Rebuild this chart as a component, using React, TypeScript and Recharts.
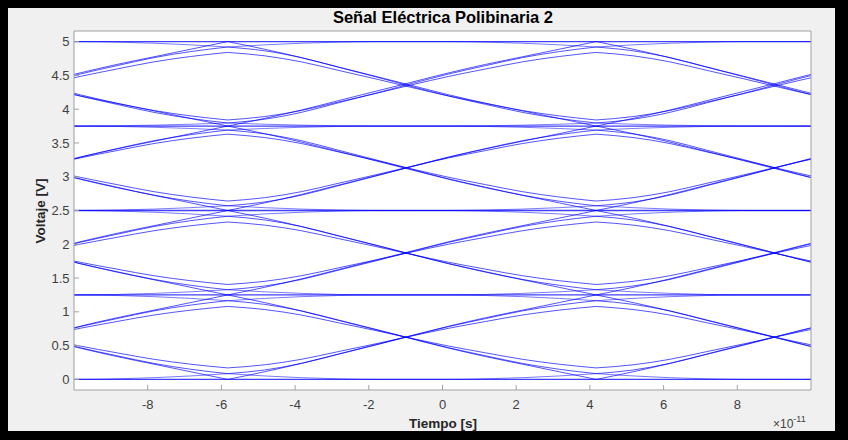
import { LineChart, Line, XAxis, YAxis } from "recharts";

// voltage levels of the polybinary signal
const levels = [0, 1.25, 2.5, 3.75, 5];
// symbol instants where the traces bunch up at the levels (x 1e-11 s)
const instants = [-15.83, -5.83, 4.17];
// time offsets inside one symbol window
const offsets = [0, 1, 2, 3, 4, 5, 6, 7, 8, 9, 10];
// transition shapes (fraction of the way between levels)
const innerShape = [0, 0.05, 0.14, 0.265, 0.39, 0.52, 0.645, 0.755, 0.86, 0.94, 1];
const throughShape = [0, 0.09, 0.19, 0.3, 0.41, 0.52, 0.63, 0.73, 0.82, 0.91, 1];
const holdShape = [1, 0.6, 0.3, 0.1, 0, 0, 0, 0.1, 0.3, 0.6, 1];
// how far the inner traces stay from the band's lower / upper level
const lowInner = [0.17, 0.155, 0.14, 0.09];
const highInner = [0.17, 0.17, 0.12, 0.16];

const xTicks = [-8, -6, -4, -2, 0, 2, 4, 6, 8];
const yTicks = [0, 0.5, 1, 1.5, 2, 2.5, 3, 3.5, 4, 4.5, 5];

type Pt = { t: number; v: number };
const curves: { key: string; pts: Pt[]; w: number }[] = [];

levels.slice(0, -1).forEach((lo, b) => {
  const hi = levels[b + 1];
  instants.forEach((t0, w) => {
    [1, 0.5, 0].forEach((k) => {
      const shape = k === 0 ? throughShape : innerShape;
      const top = hi - k * highInner[b];
      const bot = lo + k * lowInner[b];
      curves.push({
        key: `f-${b}-${w}-${k}`,
        w: 0.9,
        pts: offsets.map((o, i) => ({ t: t0 + o, v: top - (top - bot) * shape[i] })),
      });
      curves.push({
        key: `r-${b}-${w}-${k}`,
        w: 0.9,
        pts: offsets.map((o, i) => ({ t: t0 + o, v: bot + (top - bot) * shape[i] })),
      });
    });
    curves.push({
      key: `hh-${b}-${w}`,
      w: 0.7,
      pts: offsets.map((o, i) => ({ t: t0 + o, v: hi - (highInner[b] / 2) * holdShape[i] })),
    });
    curves.push({
      key: `hl-${b}-${w}`,
      w: 0.7,
      pts: offsets.map((o, i) => ({ t: t0 + o, v: lo + (lowInner[b] / 2) * holdShape[i] })),
    });
  });
});

levels.forEach((l, i) => {
  curves.push({ key: `lvl-${i}`, w: 1.3, pts: [{ t: -10, v: l }, { t: 10, v: l }] });
});

const FONT = "'Liberation Sans', Arial, Helvetica, sans-serif";
const AXIS = "#a0a0a0";
const TICK_TEXT = { fontSize: 13, fill: "#404040", fontFamily: FONT };

export default function App() {
  return (
    <div style={{ position: "absolute", left: 0, top: 0, width: 848, height: 440, background: "#000" }}>
      <div style={{ position: "absolute", left: 8, top: 8, width: 827, height: 423, background: "#f0f0f0" }} />
      <div style={{ position: "absolute", left: 74, top: 31, width: 737, height: 359, background: "#fff" }} />
      <div style={{ position: "absolute", left: 0, top: 0 }}>
        <LineChart width={848} height={440} margin={{ top: 26, right: 32, bottom: 10, left: 34 }}>
          <XAxis
            xAxisId="b"
            dataKey="t"
            type="number"
            domain={[-10, 10]}
            ticks={xTicks}
            allowDataOverflow
            orientation="bottom"
            height={40}
            tickSize={-5}
            tickMargin={15}
            stroke={AXIS}
            tick={TICK_TEXT}
          />
          <XAxis
            xAxisId="t"
            dataKey="t"
            type="number"
            domain={[-10, 10]}
            ticks={xTicks}
            allowDataOverflow
            orientation="top"
            height={5}
            tickSize={-5}
            tick={false}
            stroke={AXIS}
          />
          <YAxis
            yAxisId="l"
            type="number"
            domain={[-0.157, 5.157]}
            ticks={yTicks}
            allowDataOverflow
            width={40}
            tickSize={-5}
            tickMargin={9.5}
            stroke={AXIS}
            tick={TICK_TEXT}
          />
          <YAxis
            yAxisId="r"
            orientation="right"
            type="number"
            domain={[-0.157, 5.157]}
            ticks={yTicks}
            allowDataOverflow
            width={5}
            tickSize={-5}
            tick={false}
            stroke={AXIS}
          />
          {curves.map((c) => (
            <Line
              key={c.key}
              data={c.pts}
              dataKey="v"
              xAxisId="b"
              yAxisId="l"
              type="monotone"
              stroke="#0000ff"
              strokeWidth={c.w}
              strokeOpacity={0.75}
              dot={false}
              activeDot={false}
              isAnimationActive={false}
            />
          ))}
        </LineChart>
      </div>
      <svg width={848} height={440} style={{ position: "absolute", left: 0, top: 0, pointerEvents: "none" }}>
        <text x={443} y={23} textAnchor="middle" fontFamily={FONT} fontWeight="bold" fontSize={16.5} fill="#000">
          Señal Eléctrica Polibinaria 2
        </text>
        <text x={443} y={428} textAnchor="middle" fontFamily={FONT} fontWeight="bold" fontSize={13.5} fill="#262626">
          Tiempo [s]
        </text>
        <text transform="translate(45,211) rotate(-90)" textAnchor="middle" fontFamily={FONT} fontWeight="bold" fontSize={13.5} fill="#262626">
          Voltaje [V]
        </text>
        <text x={773} y={428} fontFamily={FONT} fontSize={12} fill="#404040">
          ×10
          <tspan fontSize={9} dy={-6}>-11</tspan>
        </text>
      </svg>
    </div>
  );
}
